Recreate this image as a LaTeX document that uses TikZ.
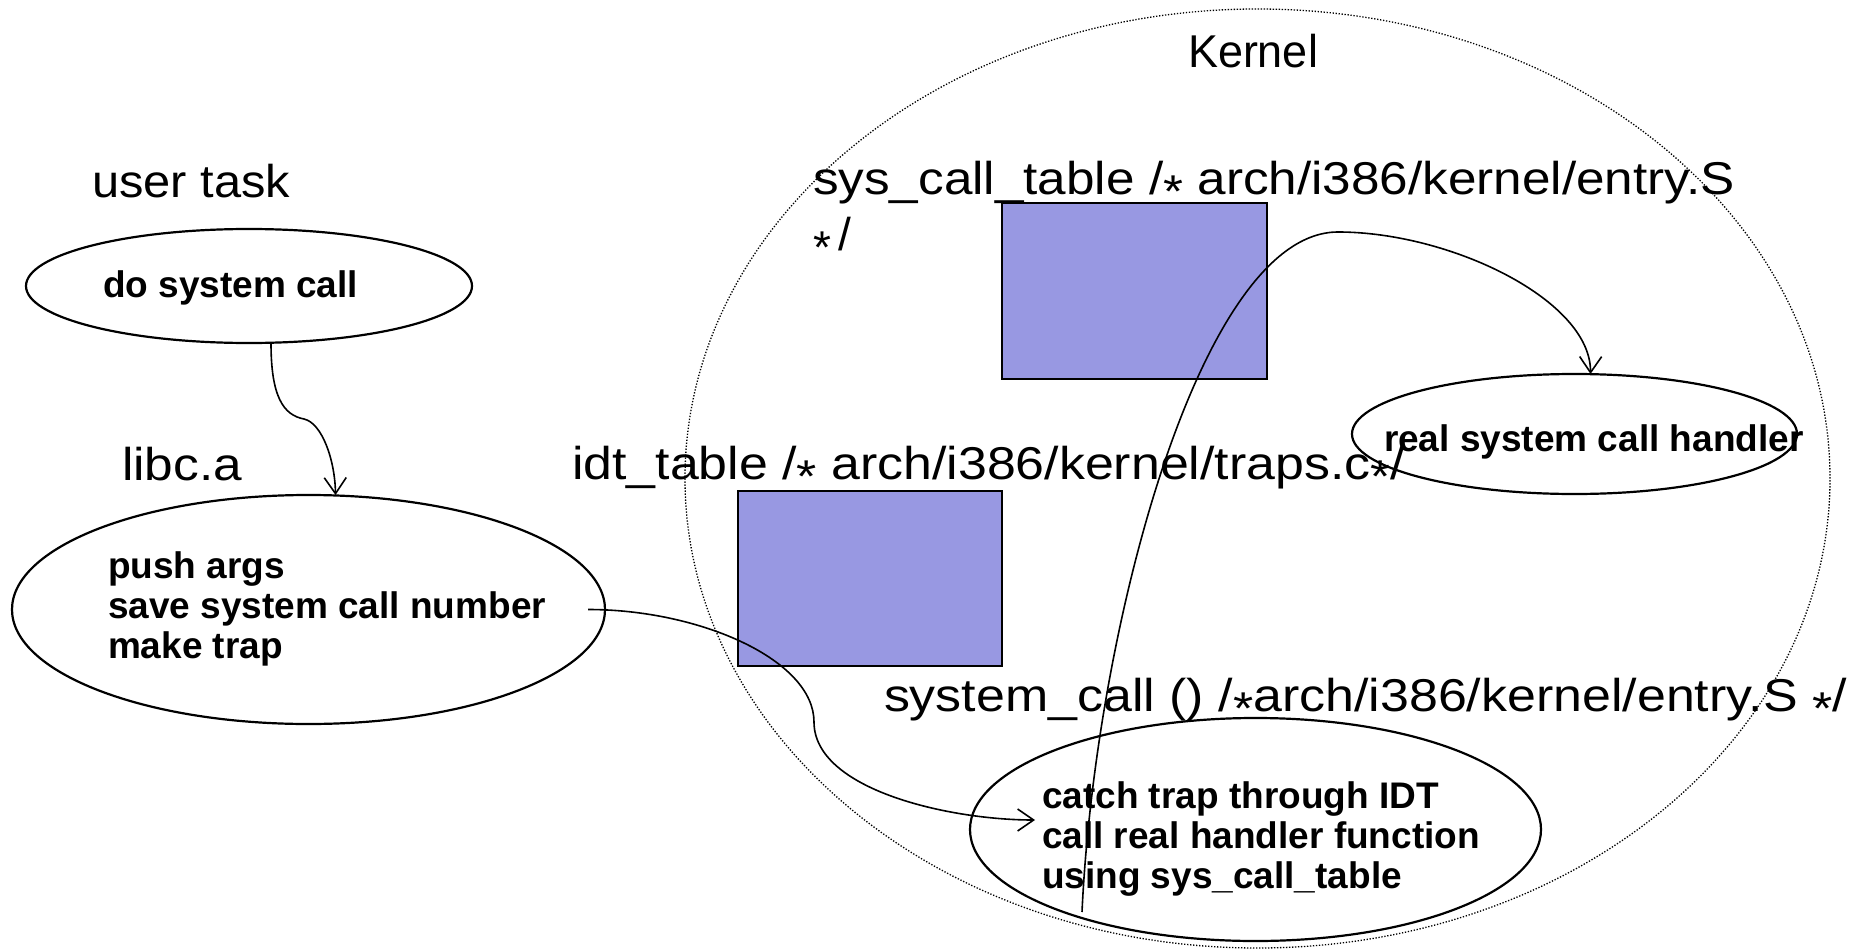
\documentclass[tikz,border=0pt]{standalone}
\usepackage{fontspec}
\setmainfont{Liberation Sans}
\usepackage{graphicx}
\usetikzlibrary{arrows.meta,calc,shapes.geometric}

\definecolor{tablefill}{RGB}{152,152,226}

% stretch a label horizontally to a given width (in pt), keeping its height
\newcommand{\fitw}[2]{\resizebox{#1pt}{\height}{#2}}
% asterisk set at mid height, as in C comments
\newcommand{\cstar}{\raisebox{-0.30em}{*}}

\begin{document}
\begin{tikzpicture}[x=1pt,y=-1pt,
  every node/.style={inner sep=0pt, outer sep=0pt},
  plain/.style={anchor=base west, font=\fontsize{46}{55}\selectfont},
  boldtxt/.style={anchor=base west, font=\fontsize{37}{40}\selectfont\bfseries},
  oval/.style={ellipse, draw, line width=2.2pt},
  zone/.style={ellipse, draw, line width=1.3pt, dash pattern=on 1.3pt off 1.7pt},
  tablebox/.style={rectangle, draw, line width=1.8pt, fill=tablefill},
  link/.style={line width=1.6pt, -{Straight Barb[length=16pt,width=22pt]}},
]
\useasboundingbox (0,0) rectangle (1857,952);

% kernel space
\node[zone, minimum width=1145pt, minimum height=939pt] (kernel) at (1257.5,478.5) {};

% tables
\node[tablebox, minimum width=265pt, minimum height=176pt] (sysbox) at (1134.5,291) {};
\node[tablebox, minimum width=264pt, minimum height=175pt] (idtbox) at (870,578.5) {};

% ovals
\node[oval, minimum width=446pt, minimum height=114pt] (do) at (249,286) {};
\node[oval, minimum width=593pt, minimum height=229pt] (libc) at (308.5,609.5) {};
\node[oval, minimum width=445pt, minimum height=120pt] (handler) at (1574.5,434) {};
\node[oval, minimum width=571pt, minimum height=223pt] (catch) at (1255.5,829.5) {};

% headings
\node[plain] (kernelT) at (1188,68) {\fitw{130}{Kernel}};
\node[plain] (userT) at (92,198) {\fitw{198}{user task}};
\node[plain] (libcT) at (122,480) {\fitw{120}{libc.a}};
\node[plain] (idtT) at (572,479) {\fitw{833}{idt\_table /\cstar{} arch/i386/kernel/traps.c\cstar/}};
\node[plain] (sysT) at (813,194) {\fitw{922}{sys\_call\_table /\cstar{} arch/i386/kernel/entry.S}};
\node[plain] (sysT2) at (813,250) {\cstar\kern8pt/};
\node[plain] (scT) at (884,711) {\fitw{963}{system\_call () /\cstar arch/i386/kernel/entry.S \cstar/}};

% oval contents
\node[boldtxt] (doT) at (103,297) {do system call};
\node[boldtxt] (pushT) at (108,578) {push args};
\node[boldtxt] (saveT) at (108,618) {save system call number};
\node[boldtxt] (makeT) at (108,658) {make trap};
\node[boldtxt] (handlerT) at (1384,451) {real system call handler};
\node[boldtxt] (catchT) at (1042,808) {catch trap through IDT};
\node[boldtxt] (callT) at (1042,848) {call real handler function};
\node[boldtxt] (usingT) at (1042,888) {using sys\_call\_table};

% connectors
\coordinate (trapin) at ($(catch.west)+(65,-9.5)$);
\coordinate (callsite) at ($(catch.center)+(-173.5,82.5)$);

\draw[link] ([xshift=22pt]do.south) .. controls +(0,53) and (283,415) .. (304,419)
  .. controls (322,423) and (335,460) .. ([xshift=27pt]libc.north);
\draw[link] ([xshift=-17pt]libc.east) .. controls +(112,0) and (814,660) .. (814,722)
  .. controls (814,790) and (950,820) .. (trapin);
\draw[link] (callsite) .. controls (1095,630) and (1200,232) .. (1338,232)
  .. controls (1450,232) and (1591,300) .. ([xshift=16pt]handler.north);
\end{tikzpicture}
\end{document}
